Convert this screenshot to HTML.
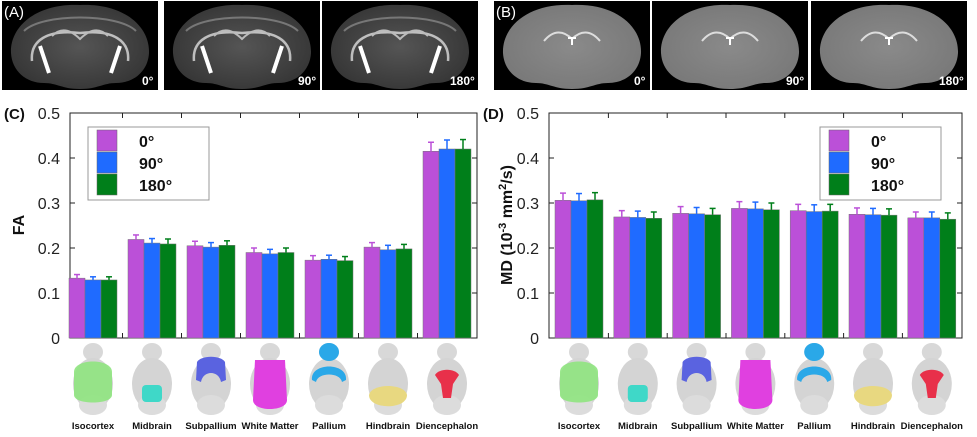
<!DOCTYPE html>
<html><head><meta charset="utf-8"><style>
body{margin:0;background:#fff;}
svg{display:block;font-family:"Liberation Sans",sans-serif;}
</style></head><body>
<svg id="fig" width="977" height="437" viewBox="0 0 977 437" xmlns="http://www.w3.org/2000/svg">
<defs>
<radialGradient id="gA" cx="0.5" cy="0.5" r="0.6"><stop offset="0" stop-color="#555"/><stop offset="1" stop-color="#333"/></radialGradient>
<radialGradient id="gB" cx="0.5" cy="0.5" r="0.6"><stop offset="0" stop-color="#8a8a8a"/><stop offset="1" stop-color="#777"/></radialGradient>
</defs>
<g id="topPanels"></g>
<g id="chartC"></g>
<g id="chartD"></g>
<g id="icons"></g>
</svg>
<script>
const NS="http://www.w3.org/2000/svg";
const categories=["Isocortex","Midbrain","Subpallium","White Matter","Pallium","Hindbrain","Diencephalon"];
const seriesNames=["0°","90°","180°"];
const faVals0=[0.133,0.219,0.205,0.190,0.173,0.202,0.415];
const faVals90=[0.129,0.211,0.202,0.187,0.175,0.196,0.420];
const faVals180=[0.129,0.209,0.206,0.190,0.172,0.198,0.420];
const faErr0=[0.008,0.010,0.010,0.010,0.010,0.010,0.020];
const faErr90=[0.007,0.010,0.010,0.010,0.009,0.010,0.020];
const faErr180=[0.007,0.011,0.010,0.010,0.009,0.010,0.021];
const mdVals0=[0.306,0.269,0.277,0.288,0.283,0.275,0.267];
const mdVals90=[0.305,0.268,0.276,0.287,0.281,0.274,0.267];
const mdVals180=[0.307,0.266,0.274,0.285,0.282,0.273,0.264];
const mdErr0=[0.016,0.014,0.015,0.015,0.014,0.014,0.013];
const mdErr90=[0.016,0.014,0.014,0.015,0.015,0.014,0.013];
const mdErr180=[0.016,0.014,0.014,0.015,0.015,0.014,0.014];
const yTicks=[0,0.1,0.2,0.3,0.4,0.5];
const yTickLabels=["0","0.1","0.2","0.3","0.4","0.5"];
const colors=["#bb50d8","#1f6bff","#007f1a"];

function el(tag,attrs,parent,text){const e=document.createElementNS(NS,tag);for(const k in attrs)e.setAttribute(k,attrs[k]);if(text!==undefined)e.textContent=text;parent.appendChild(e);return e;}

const topG=document.getElementById('topPanels');
const panels=[[2,"A","0°"],[164,"A","90°"],[322,"A","180°"],[494,"B","0°"],[652,"B","90°"],[811,"B","180°"]];
panels.forEach((p,i)=>{
  const g=el('g',{transform:`translate(${p[0]},1)`},topG);
  
  
  el('rect',{x:0,y:0,width:156,height:89,fill:'#000'},g);
  el('path',{d:'M78,4 C35,2 8,25 9,52 C10,70 24,82 42,82 C55,82 60,88 78,88 C96,88 101,82 114,82 C132,82 146,70 147,52 C148,25 121,2 78,4 Z',fill:p[1]=='A'?'url(#gA)':'url(#gB)'},g);
  if(p[1]=='A'){
    el('path',{d:'M30,60 C28,40 45,28 78,32 C111,28 128,40 126,60',fill:'none',stroke:'#ddd','stroke-width':2.5,opacity:0.8},g);
    el('path',{d:'M38,45 L47,72 M118,45 L109,72',fill:'none',stroke:'#fff','stroke-width':4},g);
    el('path',{d:'M50,35 C60,25 70,30 78,38 C86,30 96,25 106,35',fill:'none',stroke:'#bbb','stroke-width':2},g);
    el('path',{d:'M22,30 C40,12 116,12 134,30',fill:'none',stroke:'#777','stroke-width':2},g);
  } else {
    el('path',{d:'M50,40 C60,28 70,30 78,38 C86,30 96,28 106,40',fill:'none',stroke:'#ddd','stroke-width':2},g);
    el('path',{d:'M74,37 L82,37 M78,37 L78,44',stroke:'#fff','stroke-width':2},g);
  }
  el('text',{x:p[2].length>3?128:(p[2].length>2?134:140),y:84,fill:'#fff','font-size':12,'font-weight':'bold'},g,p[2]);
});
let t=el('text',{x:4,y:17,fill:'#fff','font-size':15},topG,'(A)');


t=el('text',{x:496,y:17,fill:'#fff','font-size':15},topG,'(B)');



function chart(gid,left,right,firstC,pitch,s0,s1,s2,e0,e1,e2,label,legendX,panelLabel,labelX){
  const g=document.getElementById(gid);
  const T=113,B=338;
  const y=v=>B-(v/0.5)*(B-T);
  const x=i=>firstC+pitch*i;
  const bw=16;
  el('rect',{x:left,y:T,width:right-left,height:B-T,fill:'#fff',stroke:'#222','stroke-width':1},g);
  yTicks.forEach((v,i)=>{
    el('line',{x1:left,x2:left+5,y1:y(v),y2:y(v),stroke:'#222'},g);
    el('line',{x1:right,x2:right-5,y1:y(v),y2:y(v),stroke:'#222'},g);
    const tl=el('text',{x:left-10,y:y(v)+6,'text-anchor':'end','font-size':16,fill:'#222'},g,yTickLabels[i]);
    
    
  });
  for(let i=0;i<categories.length-1;i++){
    const xm=(x(i)+x(i+1))/2;
    el('line',{x1:xm,x2:xm,y1:T,y2:T+5,stroke:'#222'},g);
    el('line',{x1:xm,x2:xm,y1:B,y2:B-5,stroke:'#222'},g);
  }
  const S=[s0,s1,s2],E=[e0,e1,e2];
  S.forEach((vals,s)=>{
    vals.forEach((v,i)=>{
      const bx=x(i)-24+s*bw;
      const ey=y(v+E[s][i]);
      const r=el('rect',{x:bx,y:y(v),width:bw,height:B-y(v),fill:colors[s],stroke:'#777','stroke-width':0.5},g);
      
      
      el('line',{x1:bx+bw/2,x2:bx+bw/2,y1:y(v),y2:ey,stroke:colors[s],'stroke-width':1.5},g);
      el('line',{x1:bx+bw/2-3,x2:bx+bw/2+3,y1:ey,y2:ey,stroke:colors[s],'stroke-width':1.5},g);
    });
  });
  const lg=el('g',{},g);
  
  
  el('rect',{x:legendX,y:127,width:121,height:73,fill:'#fff',stroke:'#999'},lg);
  seriesNames.forEach((n,s)=>{
    const le=el('g',{},lg);
    
    
    el('rect',{x:legendX+9,y:130+s*22,width:20,height:21,fill:colors[s],stroke:'#666','stroke-width':0.5},le);
    el('text',{x:legendX+51,y:147+s*22,'font-size':16,'font-weight':'bold',fill:'#111'},le,n);
  });
  const yl=el('text',{x:0,y:0,transform:`translate(${labelX},225) rotate(-90)`,'text-anchor':'middle','font-size':16,'font-weight':'bold',fill:'#111'},g);
  
  
  if(label==='FA'){yl.textContent='FA';}
  else{
    el('tspan',{},yl,'MD (10');
    el('tspan',{dy:-6,'font-size':11},yl,'-3');
    el('tspan',{dy:6},yl,' mm');
    el('tspan',{dy:-6,'font-size':11},yl,'2');
    el('tspan',{dy:6},yl,'/s)');
  }
  const pl=el('text',{x:left-66,y:119,'font-size':15,'font-weight':'bold',fill:'#111'},g,panelLabel);
  
  
  return x;
}
const xc=chart('chartC',70,477,93,59,faVals0,faVals90,faVals180,faErr0,faErr90,faErr180,'FA',88,'(C)',24);
const xd=chart('chartD',549,962,579,58.8,mdVals0,mdVals90,mdVals180,mdErr0,mdErr90,mdErr180,'MD',820,'(D)',512);

const icons=document.getElementById('icons');
const regionColors=["#8fe47f","#3fd8c8","#5a63e0","#e040e0","#2aa8e8","#e8d880","#e8304a"];
function brain(cx,i){
  const g=el('g',{transform:`translate(${cx},0)`},icons);
  
  
  el('ellipse',{cx:0,cy:352,rx:10,ry:9,fill:'#d8d8d8'},g);
  el('ellipse',{cx:0,cy:384,rx:20,ry:26,fill:'#d4d4d4'},g);
  el('ellipse',{cx:0,cy:405,rx:14,ry:10,fill:'#dcdcdc'},g);
  const c=regionColors[i];
  if(i==0) el('path',{d:'M-19,372 C-19,358 19,358 19,372 L19,395 C19,405 -19,405 -19,395 Z',fill:c,opacity:0.9},g);
  if(i==1) el('rect',{x:-10,y:385,width:20,height:17,rx:4,fill:c},g);
  if(i==2) el('path',{d:'M-14,362 C-10,355 10,355 14,362 L15,380 L10,382 C8,370 -8,370 -10,382 L-15,380 Z',fill:c},g);
  if(i==3) el('path',{d:'M-15,360 L15,360 L17,400 C17,412 -17,412 -17,400 Z',fill:c},g);
  if(i==4) {el('ellipse',{cx:0,cy:352,rx:10,ry:9,fill:c},g);el('path',{d:'M-17,380 C-19,362 19,362 17,380 L13,382 C11,372 -11,372 -13,382 Z',fill:c},g);}
  if(i==5) el('path',{d:'M-19,395 C-17,383 17,383 19,395 C19,410 -19,410 -19,395 Z',fill:c},g);
  if(i==6) el('path',{d:'M-12,375 C-8,368 8,368 12,375 L6,384 L4,398 L-4,398 L-6,384 Z',fill:c},g);
  const lb=el('text',{x:0,y:429,'text-anchor':'middle','font-size':9.5,'font-weight':'bold',fill:'#111'},g,categories[i]);
  
  
}
categories.forEach((c,i)=>{brain(xc(i),i);brain(xd(i),i);});
</script>
</body></html>
